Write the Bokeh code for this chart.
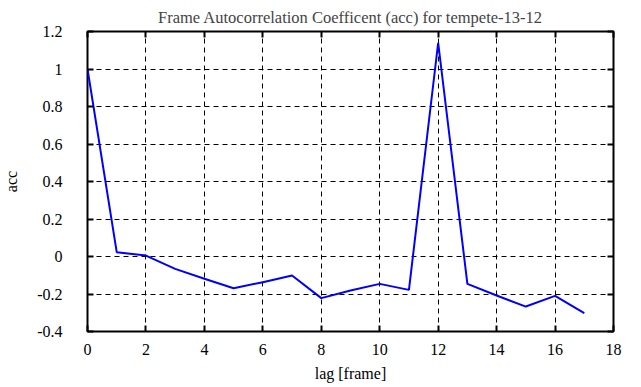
from bokeh.plotting import figure
from bokeh.models import LinearAxis, FixedTicker, Range1d
from bokeh.embed import file_html
from bokeh.resources import INLINE

lags = list(range(18))
acc = [1.0, 0.023, 0.005, -0.066, -0.119, -0.169, -0.137, -0.101, -0.222,
       -0.181, -0.146, -0.178, 1.14, -0.146, -0.208, -0.267, -0.21, -0.302]

x_ticks = [0, 2, 4, 6, 8, 10, 12, 14, 16, 18]
y_ticks = [-0.4, -0.2, 0, 0.2, 0.4, 0.6, 0.8, 1.0, 1.2]
y_tick_labels = ["-0.4", "-0.2", "0", "0.2", "0.4", "0.6", "0.8", "1", "1.2"]

FONT = "Liberation Serif"

p = figure(width=641, height=387, output_backend="svg", toolbar_location=None,
           x_range=Range1d(0, 18), y_range=Range1d(-0.4, 1.2),
           min_border_left=86, min_border_right=28, min_border_top=31,
           min_border_bottom=56, x_axis_label="lag [frame]", y_axis_label="acc")

p.title.text = "Frame Autocorrelation Coefficent (acc) for tempete-13-12"
p.title.align = "center"
p.title.text_font = FONT
p.title.text_font_size = "16.5px"
p.title.text_font_style = "normal"
p.title.standoff = 9
p.title.text_line_height = 1.0

p.line(lags, acc, line_color="#0000ff", line_width=2)

p.outline_line_color = "black"
p.outline_line_width = 2
p.outline_line_alpha = 1

for g, t in ((p.xgrid[0], x_ticks), (p.ygrid[0], y_ticks)):
    g.ticker = FixedTicker(ticks=t)
    g.grid_line_color = "black"
    g.grid_line_dash = "5 4"
    g.grid_line_width = 1

xa = p.xaxis[0]
ya = p.yaxis[0]
xa.ticker = FixedTicker(ticks=x_ticks)
ya.ticker = FixedTicker(ticks=y_ticks)
ya.major_label_overrides = {t: l for t, l in zip(y_ticks, y_tick_labels)}
for ax in (xa, ya):
    ax.axis_line_color = None
    ax.major_tick_in = 6
    ax.major_tick_out = 0
    ax.major_tick_line_width = 2
    ax.minor_tick_line_color = None
    ax.major_label_text_font = FONT
    ax.major_label_text_font_size = "16px"
    ax.major_label_text_color = "black"
    ax.axis_label_text_font = FONT
    ax.axis_label_text_font_size = "16px"
    ax.axis_label_text_font_style = "normal"
    ax.axis_label_text_color = "black"
xa.major_label_standoff = 12
ya.major_label_standoff = 25
xa.axis_label_standoff = 7
ya.axis_label_standoff = 14

for loc, t in (("above", x_ticks), ("right", y_ticks)):
    ax = LinearAxis(ticker=FixedTicker(ticks=t))
    ax.axis_line_color = None
    ax.major_tick_in = 6
    ax.major_tick_out = 0
    ax.major_tick_line_width = 2
    ax.minor_tick_line_color = None
    ax.major_label_overrides = {v: "" for v in t}
    ax.major_label_standoff = 0
    p.add_layout(ax, loc)

open("out.html", "w").write(file_html(p, INLINE))
